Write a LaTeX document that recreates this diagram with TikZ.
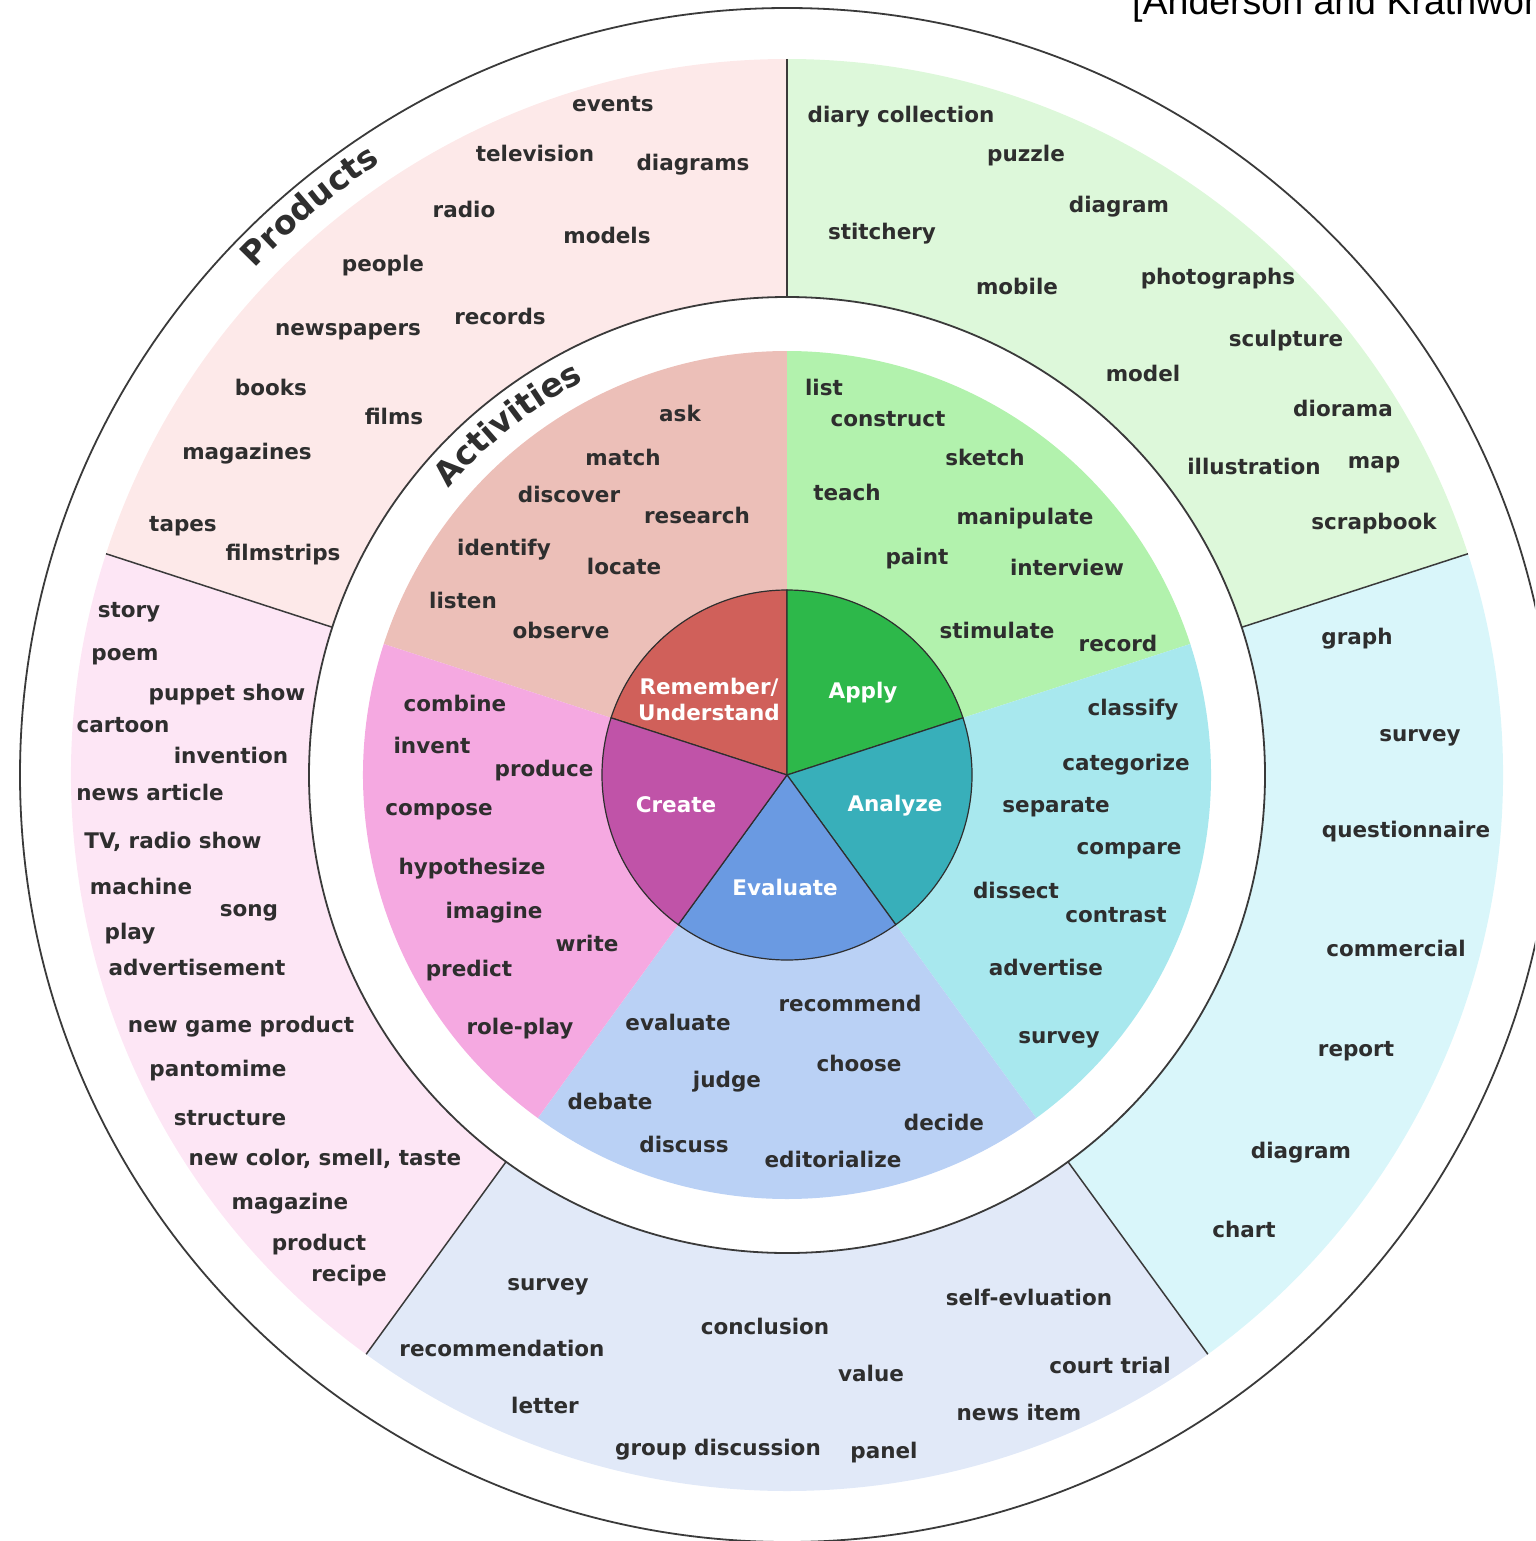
\documentclass[tikz,border=0pt]{standalone}
\usepackage{fontspec}
\setmainfont{DejaVu Sans}
\newfontfamily\citefont{Liberation Sans}
\usetikzlibrary{decorations.text}

% text and line colours
\definecolor{ink}{HTML}{2E2E2E}
\definecolor{rimgray}{HTML}{3A3A3A}
% outer ring: products
\definecolor{prodRem}{HTML}{FDE9E9}
\definecolor{prodApp}{HTML}{DDF8DA}
\definecolor{prodAna}{HTML}{D9F6FA}
\definecolor{prodEva}{HTML}{E1E9F8}
\definecolor{prodCre}{HTML}{FDE6F5}
% middle ring: activities
\definecolor{actRem}{HTML}{ECBFB8}
\definecolor{actApp}{HTML}{B2F2AD}
\definecolor{actAna}{HTML}{A8E8EE}
\definecolor{actEva}{HTML}{BAD1F5}
\definecolor{actCre}{HTML}{F5A9E1}
% core: levels
\definecolor{lvRem}{HTML}{D0605A}
\definecolor{lvApp}{HTML}{2DB84A}
\definecolor{lvAna}{HTML}{38AFBA}
\definecolor{lvEva}{HTML}{6A9AE2}
\definecolor{lvCre}{HTML}{C053A8}

\begin{document}
\begin{tikzpicture}[x=1pt,y=-1pt,
  word/.style={font=\fontsize{21.5}{24}\selectfont\bfseries, text=ink,
               anchor=base, inner sep=0pt, yshift=-8.5pt},
  levellabel/.style={font=\fontsize{21.5}{26}\selectfont\bfseries, text=white,
                     inner sep=0pt},
  rim/.style={draw=rimgray, line width=1.8pt},
  divider/.style={draw=rimgray, line width=1.5pt},
  coreline/.style={draw=ink, line width=1.2pt},
]
\clip (0,0) rectangle (1535,1541);
\useasboundingbox (0,0) rectangle (1535,1541);

% ---------------- the wheel (origin at its centre, y upwards) ----------------
\begin{scope}[shift={(787,775)}, y=1pt]
  % products ring
  \foreach \a/\c in {90/prodRem, 18/prodApp, -54/prodAna, -126/prodEva, 162/prodCre}{
    \fill[\c] (\a:716) arc[start angle=\a, end angle=\a+72, radius=716]
      -- (\a+72:478) arc[start angle=\a+72, end angle=\a, radius=478] -- cycle;
  }
  % activities ring
  \foreach \a/\c in {90/actRem, 18/actApp, -54/actAna, -126/actEva, 162/actCre}{
    \fill[\c] (0,0) -- (\a:424) arc[start angle=\a, end angle=\a+72, radius=424] -- cycle;
  }
  % levels
  \foreach \a/\c in {90/lvRem, 18/lvApp, -54/lvAna, -126/lvEva, 162/lvCre}{
    \filldraw[fill=\c, coreline] (0,0) -- (\a:185) arc[start angle=\a, end angle=\a+72, radius=185] -- cycle;
  }
  % rims and dividers of the products ring
  \draw[rim] (0,0) circle[radius=478];
  \draw[rim] (0,0) circle[radius=767];
  \foreach \a in {90,18,-54,-126,162}
    \draw[divider] (\a:478) -- (\a:716);

  % ring titles
  \path[decorate, decoration={text along path, text align=center, text color=ink,
        text={|\fontsize{33}{33}\selectfont\bfseries|Products}}]
    (160:735) arc[start angle=160, end angle=100, radius=735];
  \path[decorate, decoration={text along path, text align=center, text color=ink,
        text={|\fontsize{33}{33}\selectfont\bfseries|Activities}}]
    (158.5:443) arc[start angle=158.5, end angle=98.5, radius=443];
\end{scope}

% ---------------- level names ----------------
\node[levellabel, align=center] (lv-rem) at (709,699) {Remember/\\Understand};
\node[levellabel, anchor=base] (lv-app) at (863,698) {Apply};
\node[levellabel, anchor=base] (lv-ana) at (895,811) {Analyze};
\node[levellabel, anchor=base] (lv-eva) at (785,895) {Evaluate};
\node[levellabel, anchor=base] (lv-cre) at (676,812) {Create};

% ---------------- activities ----------------
\foreach \x/\y/\t [count=\i] in {680/413/ask, 623/457/match, 569/494/discover,
    697/515/research, 504/547/identify, 624/566/locate, 463/600/listen, 561/630/observe}
  \node[word] (ar-\i) at (\x,\y) {\t};
\foreach \x/\y/\t [count=\i] in {824/387/list, 888/418/construct, 985/457/sketch,
    847/492/teach, 1025/516/manipulate, 917/556/paint, 1067/567/interview,
    997/630/stimulate, 1118/643/record}
  \node[word] (ap-\i) at (\x,\y) {\t};
\foreach \x/\y/\t [count=\i] in {1133/707/classify, 1126/762/categorize, 1056/804/separate,
    1129/846/compare, 1016/890/dissect, 1116/914/contrast, 1046/967/advertise,
    1059/1035/survey}
  \node[word] (aa-\i) at (\x,\y) {\t};
\foreach \x/\y/\t [count=\i] in {850/1003/recommend, 678/1022/evaluate, 859/1063/choose,
    727/1079/judge, 610/1101/debate, 944/1122/decide, 684/1144/discuss,
    833/1159/editorialize}
  \node[word] (ae-\i) at (\x,\y) {\t};
\foreach \x/\y/\t [count=\i] in {455/703/combine, 432/745/invent, 544/768/produce,
    439/807/compose, 472/866/hypothesize, 494/910/imagine, 587/943/write,
    469/968/predict, 520/1026/role-play}
  \node[word] (ac-\i) at (\x,\y) {\t};

% ---------------- products ----------------
\foreach \x/\y/\t [count=\i] in {613/103/events, 535/153/television, 693/162/diagrams,
    464/209/radio, 607/235/models, 383/263/people, 348/327/newspapers, 500/316/records,
    271/387/books, 394/416/films, 247/451/magazines, 183/523/tapes, 283/552/filmstrips}
  \node[word] (pr-\i) at (\x,\y) {\t};
\foreach \x/\y/\t [count=\i] in {901/114/diary collection, 1026/153/puzzle, 1119/204/diagram,
    882/231/stitchery, 1017/286/mobile, 1218/276/photographs, 1286/338/sculpture,
    1143/373/model, 1343/408/diorama, 1254/466/illustration, 1374/460/map,
    1374/521/scrapbook}
  \node[word] (pp-\i) at (\x,\y) {\t};
\foreach \x/\y/\t [count=\i] in {1357/636/graph, 1420/733/survey, 1406/829/questionnaire,
    1396/948/commercial, 1356/1048/report, 1301/1150/diagram, 1244/1229/chart}
  \node[word] (pa-\i) at (\x,\y) {\t};
\foreach \x/\y/\t [count=\i] in {548/1282/survey, 1029/1297/self-evluation,
    765/1326/conclusion, 502/1348/recommendation, 871/1373/value, 1110/1365/court trial,
    545/1405/letter, 1019/1412/news item, 718/1447/group discussion, 884/1450/panel}
  \node[word] (pe-\i) at (\x,\y) {\t};
\foreach \x/\y/\t [count=\i] in {129/609/story, 125/652/poem, 227/692/puppet show,
    123/724/cartoon, 231/755/invention, 150/792/news article, 173/840/{TV, radio show},
    141/886/machine, 249/908/song, 130/931/play, 197/967/advertisement,
    241/1024/new game product, 218/1068/pantomime, 230/1117/structure,
    325/1157/{new color, smell, taste}, 290/1201/magazine, 319/1242/product,
    349/1273/recipe}
  \node[word] (pc-\i) at (\x,\y) {\t};

% ---------------- source ----------------
\node[anchor=base west, inner sep=0pt, font=\citefont\fontsize{37.5}{40}\selectfont, text=black]
  (source) at (1132,15) {[Anderson and Krathwohl]};
\end{tikzpicture}
\end{document}
